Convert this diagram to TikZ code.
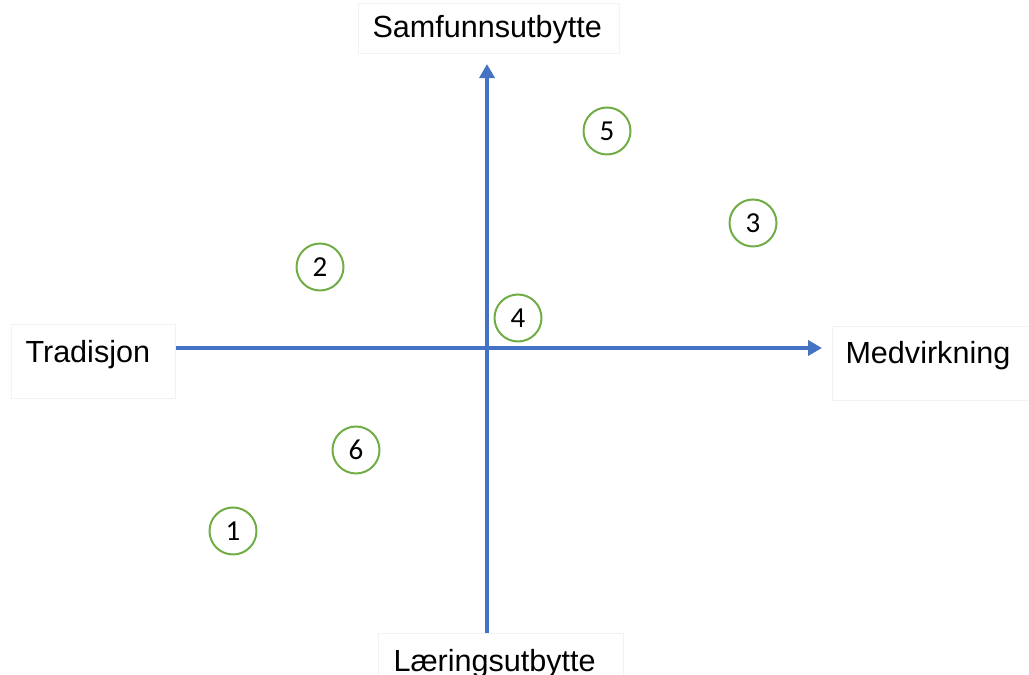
\documentclass[tikz,border=0pt]{standalone}
\usepackage{fontspec}
\setmainfont{Liberation Sans}
\newfontfamily\numfont{Carlito}
\usetikzlibrary{arrows.meta}
\definecolor{axisblue}{HTML}{4472C4}
\definecolor{markgreen}{HTML}{70AD47}

\begin{document}
\begin{tikzpicture}[
            x = 0.02cm, y = -0.02cm, % one unit is one pixel of the sketch
            > = {Triangle[length=0.28cm, width=0.3cm]}, % arrow head style
            shorten > = 0.2cm, % don't touch arrow head to label
            semithick % line style
        ]

        \tikzstyle{axislabel}=[
            draw = black!5,
            anchor = north west,
            inner sep = 0pt,
            align = left,
            font = \fontsize{17.4}{20}\selectfont
        ]
        \tikzstyle{marker}=[
            circle,
            draw = markgreen,
            line width = 0.04cm,
            inner sep = 0pt,
            minimum size = 0.94cm,
            font = \numfont\fontsize{16.5}{18}\selectfont
        ]
        \tikzstyle{axisline}=[
            ->,
            draw = axisblue,
            line width = 0.08cm
        ]

        \useasboundingbox (0,0) rectangle (1029,675);

        \node[axislabel, inner xsep=0.28cm, text width=2.72cm, text height=0.76cm, text depth=0.72cm] (trad) at (11,324) {Tradisjon};
        \node[axislabel, inner xsep=0.26cm, text width=3.88cm, text height=0.74cm, text depth=0.74cm] (medv) at (832,326) {Medvirkning};
        \node[axislabel, inner xsep=0.28cm, text width=4.66cm, text height=0.68cm, text depth=0.32cm] (samf) at (358,3) {Samfunnsutbytte};
        \node[axislabel, inner xsep=0.3cm, text width=4.3cm, text height=0.76cm, text depth=0.72cm] (laer) at (378,633) {Læringsutbytte};

        \coordinate (o) at (487,348);

        \draw[axisline] (trad.east |- o) -- (medv.west |- o);
        \draw[axisline] (laer.north -| o) -- (samf.south -| o);

        \node[marker] (m1) at (233,531) {1};
        \node[marker] (m2) at (320,267) {2};
        \node[marker] (m3) at (753,223) {3};
        \node[marker] (m4) at (518,318) {4};
        \node[marker] (m5) at (607,131) {5};
        \node[marker] (m6) at (356,450) {6};

        %\draw[red, dashed] (o) circle (5);
    \end{tikzpicture}
\end{document}
